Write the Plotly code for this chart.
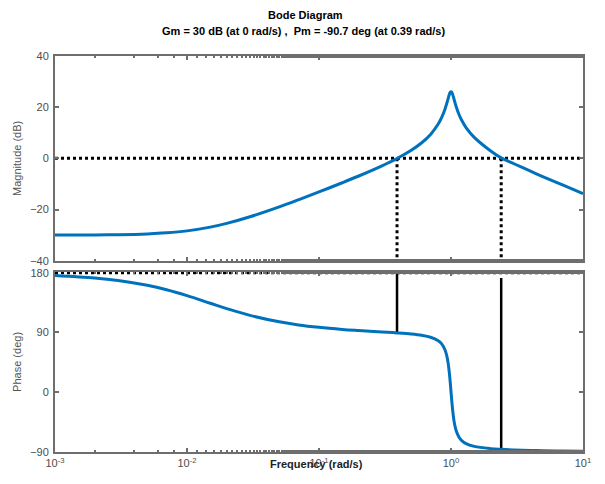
import plotly.graph_objects as go
from plotly.subplots import make_subplots

freq = [0.001, 0.002, 0.003, 0.005, 0.007, 0.01, 0.015, 0.02, 0.03, 0.05, 0.07, 0.1,
        0.15, 0.2, 0.3, 0.39, 0.5, 0.6, 0.7, 0.8, 0.85, 0.9, 0.93, 0.95, 0.97, 0.98,
        0.99, 1.0, 1.01, 1.02, 1.03, 1.05, 1.07, 1.1, 1.15, 1.2, 1.3, 1.5, 2, 2.4, 3,
        4, 5, 7, 10]
mag_db = [-29.98, -29.92, -29.82, -29.52, -29.10, -28.33, -26.87, -25.41, -22.81, -18.93,
          -16.16, -13.11, -9.53, -6.89, -2.92, -0.04, 3.17, 6.11, 9.37, 13.41, 15.99,
          19.21, 21.56, 23.25, 24.85, 25.48, 25.90, 26.04, 25.90, 25.50, 24.91, 23.45,
          21.94, 19.89, 17.16, 15.07, 12.04, 8.22, 2.9, 0.2, -2.1, -5.0, -7.2, -10.4, -13.8]
phase_deg = [176.1, 172.2, 168.4, 161.1, 154.4, 145.5, 134.1, 126.0, 115.8, 106.0, 101.3,
             97.7, 94.6, 92.9, 90.75, 89.3, 87.55, 85.6, 82.76, 77.55, 72.7, 63.84, 54.27,
             44.4, 30.3, 21.4, 11.4, 0.8, -9.6, -19.3, -27.9, -41.3, -50.65, -59.7, -68.2,
             -72.9, -77.86, -82.06, -85.46, -86.53, -87.4, -88.14, -88.54, -88.98, -89.29]

cross_freq = [0.39, 2.4]
cross_phase_start = [180, 172]
cross_phase_end = [89.3, -86.5]

x_tickvals = [0.001, 0.01, 0.1, 1, 10]
x_ticktext = ["10<sup>-3</sup>", "10<sup>-2</sup>", "10<sup>-1</sup>", "10<sup>0</sup>", "10<sup>1</sup>"]
mag_ticks = [-40, -20, 0, 20, 40]
phase_ticks = [-90, 0, 90, 180]

title_lines = ["Bode Diagram", "Gm = 30 dB (at 0 rad/s) ,  Pm = -90.7 deg (at 0.39 rad/s)"]
x_label = "Frequency (rad/s)"

BLUE = "#0072BD"
FRAME = "#6e6e6e"
FONT = "Liberation Sans, Arial"
TICKFONT = dict(family=FONT, size=11, color="#4d4d4d")

fig = make_subplots(rows=2, cols=1, shared_xaxes=False, vertical_spacing=0.03)

# magnitude
fig.add_trace(go.Scatter(x=[freq[0], freq[-1]], y=[0, 0], mode="lines",
                         line=dict(color="black", width=3, dash="dot"), showlegend=False), 1, 1)
for f in cross_freq:
    fig.add_trace(go.Scatter(x=[f, f], y=[0, -40], mode="lines",
                             line=dict(color="black", width=3, dash="dot"), showlegend=False), 1, 1)
fig.add_trace(go.Scatter(x=freq, y=mag_db, mode="lines", line=dict(color=BLUE, width=3, shape="spline"),
                         showlegend=False), 1, 1)

# phase
fig.add_trace(go.Scatter(x=[freq[0], freq[-1]], y=[180, 180], mode="lines",
                         line=dict(color="black", width=3, dash="dot"), showlegend=False), 2, 1)
for f, p0, p1 in zip(cross_freq, cross_phase_start, cross_phase_end):
    fig.add_trace(go.Scatter(x=[f, f], y=[p0, p1], mode="lines",
                             line=dict(color="black", width=2.5), showlegend=False), 2, 1)
fig.add_trace(go.Scatter(x=freq, y=phase_deg, mode="lines", line=dict(color=BLUE, width=3, shape="spline"),
                         showlegend=False), 2, 1)

common_x = dict(type="log", range=[-3, 1], tickvals=x_tickvals, ticks="inside", ticklen=4,
                tickcolor=FRAME, tickwidth=2, showline=True, linecolor=FRAME, linewidth=2,
                mirror="ticks", showgrid=False, zeroline=False,
                minor=dict(ticks="inside", ticklen=2, tickcolor=FRAME, tickwidth=2, showgrid=False))
fig.update_xaxes(**common_x, showticklabels=False, row=1, col=1)
fig.update_xaxes(**common_x, ticktext=x_ticktext, tickfont=TICKFONT, row=2, col=1)

common_y = dict(ticks="inside", ticklen=4, tickcolor=FRAME, tickwidth=2, showline=True,
                linecolor=FRAME, linewidth=2, mirror="ticks", showgrid=False, zeroline=False,
                tickfont=TICKFONT, ticklabelstandoff=2)
fig.update_yaxes(**common_y, range=[-40, 40], tickvals=mag_ticks,
                 title=dict(text="Magnitude (dB)", font=dict(family=FONT, size=11, color="#555555"), standoff=6),
                 row=1, col=1)
fig.update_yaxes(**common_y, range=[-90.5, 181.5], tickvals=phase_ticks,
                 title=dict(text="Phase (deg)", font=dict(family=FONT, size=11, color="#555555"), standoff=6),
                 row=2, col=1)

fig.update_layout(
    width=605, height=484,
    margin=dict(l=55, r=22, t=56, b=32),
    paper_bgcolor="white", plot_bgcolor="white",
    xaxis=dict(domain=[0, 1]), xaxis2=dict(domain=[0, 1]),
    yaxis=dict(domain=[0.483, 1.0]), yaxis2=dict(domain=[0.0, 0.455]),
)
fig.add_annotation(text="<b>" + title_lines[0] + "</b>", x=0.5, xref="paper", y=1, yref="paper",
                   xshift=-14, yshift=49, showarrow=False, font=dict(family=FONT, size=11, color="black"))
fig.add_annotation(text="<b>" + title_lines[1] + "</b>", x=0.5, xref="paper", y=1, yref="paper",
                   xshift=-16, yshift=33, showarrow=False, font=dict(family=FONT, size=11, color="black"))
fig.add_annotation(text="<b>" + x_label + "</b>", x=0.5, xref="paper", y=0, yref="paper",
                   xshift=-3, yshift=-20, showarrow=False, font=dict(family=FONT, size=11, color="#222222"))

fig.write_html("out.html")
